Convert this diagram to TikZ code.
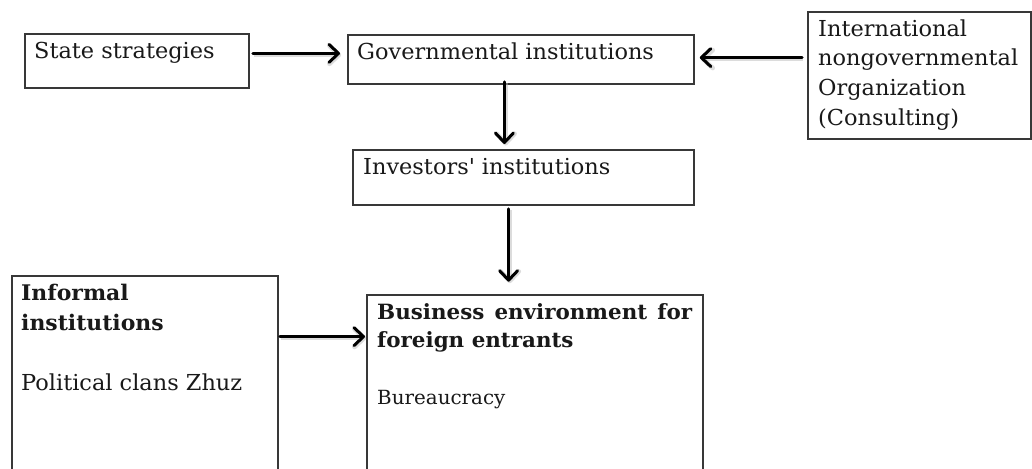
\documentclass[tikz,border=0pt]{standalone}
\usepackage{fontspec}
\setmainfont{DejaVu Serif}[FakeStretch=1.02]
\usetikzlibrary{arrows.meta,calc}

\begin{document}
\begin{tikzpicture}[x=1pt,y=-1pt,
  box/.style={draw=black!78, line width=1.8pt, inner sep=0pt, anchor=north west},
  lbl/.style={inner sep=0pt, anchor=base west, align=left, text=black!90,
              font=\fontsize{22}{29.6}\selectfont},
  small/.style={lbl, font=\fontsize{19.5}{24}\selectfont},
  arr/.style={line width=3pt, line cap=round,
              -{Straight Barb[length=9.5pt,width=18pt,round]},
              preaction={draw=black!30, line width=4.5pt, opacity=.45,
                         transform canvas={shift={(1.2pt,-1.5pt)}}}},
  ]
\clip (0,0) rectangle (1032,468);
\fill[white] (0,0) rectangle (1032,468);

% boxes
\node[box, minimum width=224, minimum height=54]  (ss)   at (24,33)  {};
\node[box, minimum width=346, minimum height=49]  (gov)  at (347,34) {};
\node[box, minimum width=223, minimum height=127] (intl) at (807,11) {};
\node[box, minimum width=341, minimum height=55]  (inv)  at (352,149) {};
\node[box, minimum width=266, minimum height=215] (inf)  at (11,275) {};
\node[box, minimum width=336, minimum height=196] (bus)  at (366,294) {};

% texts (multi-line labels are placed by the baseline of their last line)
\node[lbl] (tss)   at ($(ss.north west)+(10,26)$)   {State strategies};
\node[lbl] (tgov)  at ($(gov.north west)+(10,26)$)  {Governmental institutions};
\node[lbl] (tintl) at ($(intl.north west)+(11,114)$) {International\\nongovernmental\\Organization\\(Consulting)};
\node[lbl] (tinv)  at ($(inv.north west)+(11,25)$)  {Investors\textquotesingle{} institutions};
\node[lbl, font=\bfseries\fontsize{21.5}{30}\selectfont] (tinf) at ($(inf.north west)+(10,55)$) {Informal\\institutions};
\node[lbl] (tclan) at ($(inf.north west)+(10,115)$) {Political clans Zhuz};
\node[lbl, font=\bfseries\fontsize{21}{27.5}\selectfont] (tbus) at ($(bus.north west)+(11,53)$)
  {\makebox[315pt][s]{Business environment for}\\foreign entrants};
\node[small] (tbur) at ($(bus.north west)+(11,110)$) {Bureaucracy};

% connectors
\draw[arr] ([shift={(3,-7.5)}]ss.east) -- ([shift={(-7,-6)}]gov.west);
\draw[arr] ([shift={(-5,-17.8)}]intl.west) -- ([shift={(5,-1.8)}]gov.east);
\draw[arr] ([shift={(-16.5,-3)}]gov.south) -- ([shift={(-19,-5)}]inv.north);
\draw[arr] ([shift={(-14.8,3)}]inv.south) -- ([shift={(-26.3,-12.3)}]bus.north);
\draw[arr] ([shift={(1,-46.8)}]inf.east) -- ([shift={(-1,-56.3)}]bus.west);
\end{tikzpicture}
\end{document}
